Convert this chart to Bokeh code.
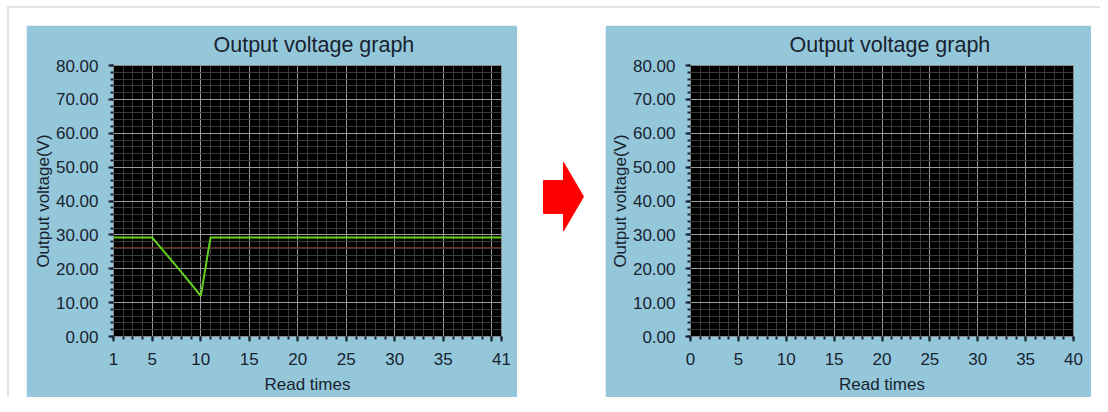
from bokeh.plotting import figure
from bokeh.layouts import row, column
from bokeh.models import FixedTicker, PrintfTickFormatter, Range1d, Spacer
from bokeh.embed import file_html
from bokeh.resources import INLINE

# ---- data ----
read_times = list(range(1, 42))
output_voltage = [29.2, 29.2, 29.2, 29.2, 29.2, 25.8, 22.4, 19.0, 15.5, 11.9,
                  29.2, 29.2, 29.2, 29.2, 29.2, 29.2, 29.2, 29.2, 29.2, 29.2,
                  29.2, 29.2, 29.2, 29.2, 29.2, 29.2, 29.2, 29.2, 29.2, 29.2,
                  29.2, 29.2, 29.2, 29.2, 29.2, 29.2, 29.2, 29.2, 29.2, 29.2, 29.2]
limit_value = 26.2
y_ticks = [0, 10, 20, 30, 40, 50, 60, 70, 80]
y_minor = list(range(0, 81, 2))
left_x_ticks = [1, 5, 10, 15, 20, 25, 30, 35, 40, 41]
left_x_hidden = [40]
left_x_minor = list(range(1, 42))
right_x_ticks = [0, 5, 10, 15, 20, 25, 30, 35, 40]
right_x_minor = list(range(0, 41))
title_text = "Output voltage graph"
x_label = "Read times"
y_label = "Output voltage(V)"

PANEL = "#95c7db"
TEXT = "#17232e"
FONT = "Liberation Sans"
BORDER = "#e3e3e3"


def make_graph(width, bl, br, bb, xr, xticks, xminor, title_offset):
    p = figure(width=width, height=372, output_backend="svg", toolbar_location=None,
               x_range=Range1d(*xr), y_range=Range1d(0, 80),
               min_border_left=bl, min_border_right=br, min_border_top=40,
               min_border_bottom=bb, background_fill_color="black",
               border_fill_color=PANEL, outline_line_color="#8a8a8a",
               title=title_text, margin=0)
    p.title.text_font = FONT
    p.title.text_font_size = "21.5px"
    p.title.text_font_style = "normal"
    p.title.text_color = TEXT
    p.title.align = "left"
    p.title.offset = title_offset
    p.title.vertical_align = "top"
    p.title.standoff = 13

    p.xaxis.ticker = FixedTicker(ticks=xticks, minor_ticks=xminor)
    p.yaxis.ticker = FixedTicker(ticks=y_ticks, minor_ticks=y_minor)
    p.yaxis.formatter = PrintfTickFormatter(format="%.2f")
    for ax in (p.xaxis[0], p.yaxis[0]):
        ax.axis_line_color = None
        ax.major_tick_in = 0
        ax.major_tick_out = 5
        ax.minor_tick_in = 0
        ax.minor_tick_out = 3
        ax.major_tick_line_color = TEXT
        ax.minor_tick_line_color = TEXT
        ax.major_tick_line_width = 2
        ax.minor_tick_line_width = 2
        ax.major_label_text_font = FONT
        ax.major_label_text_font_size = "17px"
        ax.major_label_text_color = TEXT
        ax.axis_label_text_font = FONT
        ax.axis_label_text_font_size = "17px"
        ax.axis_label_text_font_style = "normal"
        ax.axis_label_text_color = TEXT
    p.xaxis.axis_label = x_label
    p.yaxis.axis_label = y_label
    p.xaxis.major_label_standoff = 11
    p.yaxis.major_label_standoff = 10
    p.xaxis.axis_label_standoff = 7
    p.yaxis.axis_label_standoff = 0

    for g in (p.xgrid[0], p.ygrid[0]):
        g.grid_line_color = "#9c9c9c"
        g.grid_line_width = 1
        g.minor_grid_line_color = "#3a3a3a"
        g.minor_grid_line_width = 1
    return p


left = make_graph(491, 87, 16, 60, (1, 41), left_x_ticks, left_x_minor, 100)
left.xaxis.major_label_overrides = {t: "" for t in left_x_hidden}
left.line(x=[read_times[0], read_times[-1]], y=[limit_value, limit_value],
          line_color="#7a3f1f", line_width=1)
left.line(x=read_times, y=output_voltage, line_color="#62d21f", line_width=2)

right = make_graph(486, 85, 18, 61, (0, 40), right_x_ticks, right_x_minor, 99)

# arrow panel (page-like coordinates)
arrow = figure(width=88, height=372, output_backend="svg", toolbar_location=None,
               x_range=Range1d(517, 605), y_range=Range1d(397, 25),
               min_border=0, background_fill_color="white", border_fill_color="white",
               outline_line_color=None, margin=0)
arrow.axis.visible = False
arrow.grid.visible = False
arrow.patch(x=[543, 563, 563, 583, 563, 563, 543],
            y=[183, 183, 158, 205, 252, 228, 228],
            fill_color="#ff0000", line_color="#ff0000")

charts = row(Spacer(width=17, height=372, margin=0), left, arrow, right,
             margin=0, spacing=0)
body = column(Spacer(width=1082, height=17, margin=0), charts, margin=0, spacing=0)

layout = column(
    Spacer(width=1093, height=6, margin=0),
    row(Spacer(width=7, height=2, margin=0),
        Spacer(width=1093, height=2, margin=0, styles={"background-color": BORDER}),
        margin=0, spacing=0),
    row(Spacer(width=7, height=389, margin=0),
        Spacer(width=2, height=389, margin=0, styles={"background-color": BORDER}),
        body, margin=0, spacing=0),
    margin=0, spacing=0)

open("out.html", "w").write(file_html(layout, INLINE))
